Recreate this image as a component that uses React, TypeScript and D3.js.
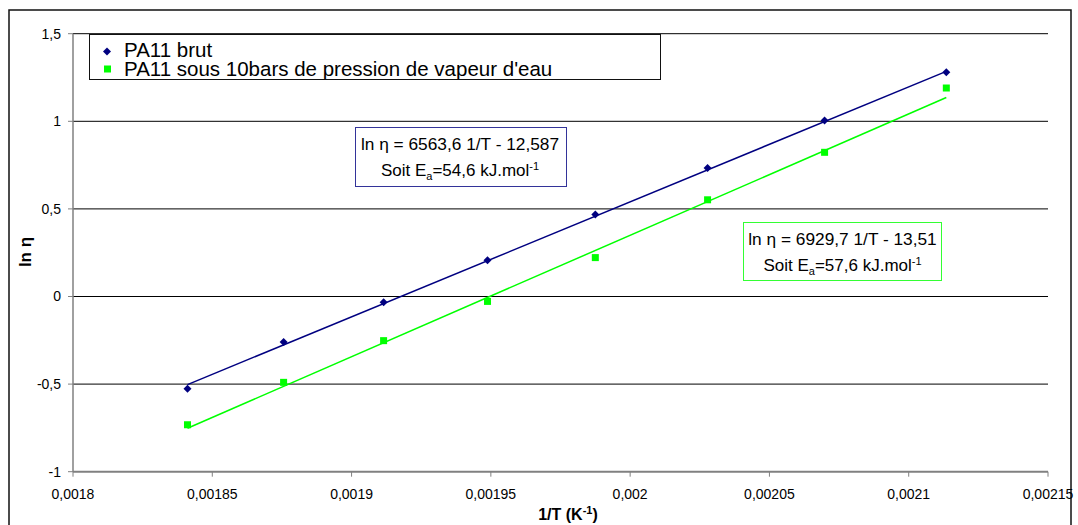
import React from "react";
import * as d3 from "d3";

const invT = [0.0018411, 0.0018756, 0.0019115, 0.0019488, 0.0019875, 0.0020278, 0.0020698, 0.0021135];
const brut = [-0.527, -0.26, -0.033, 0.207, 0.468, 0.733, 1.004, 1.28];
const vapeur = [-0.732, -0.49, -0.252, -0.028, 0.222, 0.552, 0.823, 1.19];
const fitBrut = { slope: 6563.6, intercept: -12.587 };
const fitVapeur = { slope: 6929.7, intercept: -13.51 };
const xTicks = [0.0018, 0.00185, 0.0019, 0.00195, 0.002, 0.00205, 0.0021, 0.00215];
const yTicks = [-1, -0.5, 0, 0.5, 1, 1.5];
const legendLabels = ["PA11 brut", "PA11 sous 10bars de pression de vapeur d'eau", "Linéaire (PA11 brut)"];

const BLUE = "#000080";
const GREEN = "#00FF00";
const FONT = "'Liberation Sans', Arial, sans-serif";

const fmt = (v: number) => String(v).replace(".", ",");

export default function App() {
  const x = d3.scaleLinear().domain([0.0018, 0.00215]).range([73, 1048]);
  const y = d3.scaleLinear().domain([-1, 1.5]).range([471.7, 33.7]);
  const line = d3.line<[number, number]>().x((d) => x(d[0])).y((d) => y(d[1]));
  const x0 = d3.min(invT)!;
  const x1 = d3.max(invT)!;
  const fitLine = (f: { slope: number; intercept: number }) =>
    line([
      [x0, f.slope * x0 + f.intercept],
      [x1, f.slope * x1 + f.intercept],
    ]);
  const diamond = "M0,-4L4,0L0,4L-4,0Z";

  return (
    <svg
      width={1078}
      height={525}
      style={{ position: "absolute", left: 0, top: 0, background: "#fff" }}
      fontFamily={FONT}
    >
      <defs>
        <clipPath id="legclip">
          <rect x={90} y={35} width={570} height={44} />
        </clipPath>
      </defs>
      <rect x={0} y={0} width={1078} height={525} fill="#fff" />
      {/* chart frame */}
      <rect x={9} y={10} width={1062} height={540} fill="none" stroke="#111" strokeWidth={1.5} />

      {/* gridlines */}
      {yTicks
        .filter((t) => t !== -1)
        .map((t) => (
          <line key={"g" + t} x1={x(0.0018)} x2={x(0.00215)} y1={y(t)} y2={y(t)} stroke="#000" strokeWidth={1} />
        ))}

      {/* y axis */}
      <line x1={x(0.0018)} x2={x(0.0018)} y1={y(1.5)} y2={y(-1)} stroke="#808080" strokeWidth={1.5} />
      {yTicks.map((t) => (
        <g key={"yt" + t}>
          <line x1={x(0.0018) - 5} x2={x(0.0018)} y1={y(t)} y2={y(t)} stroke="#808080" strokeWidth={1} />
          <text x={61} y={y(t)} dy="0.35em" textAnchor="end" fontSize={14} fill="#000">
            {fmt(t)}
          </text>
        </g>
      ))}

      {/* x axis */}
      <line x1={x(0.0018)} x2={x(0.00215)} y1={y(-1)} y2={y(-1)} stroke="#808080" strokeWidth={2} />
      {xTicks.map((t) => (
        <g key={"xt" + t}>
          <line x1={x(t)} x2={x(t)} y1={y(-1)} y2={y(-1) + 5} stroke="#808080" strokeWidth={1} />
          <text x={x(t)} y={499} textAnchor="middle" fontSize={14} fill="#000">
            {fmt(t)}
          </text>
        </g>
      ))}

      {/* axis titles */}
      <text x={568} y={520} textAnchor="middle" fontSize={16} fontWeight="bold">
        1/T (K
        <tspan fontSize={11} dy={-6}>-1</tspan>
        <tspan dy={6}>)</tspan>
      </text>
      <text transform="translate(31,252) rotate(-90)" textAnchor="middle" fontSize={17} fontWeight="bold">
        ln η
      </text>

      {/* trend lines */}
      <path d={fitLine(fitBrut)!} fill="none" stroke={BLUE} strokeWidth={1.5} />
      <path d={fitLine(fitVapeur)!} fill="none" stroke={GREEN} strokeWidth={1.5} />

      {/* points */}
      {invT.map((v, i) => (
        <path key={"b" + i} d={diamond} transform={`translate(${x(v)},${y(brut[i])})`} fill={BLUE} />
      ))}
      {invT.map((v, i) => (
        <rect key={"v" + i} x={x(v) - 3.5} y={y(vapeur[i]) - 3.5} width={7} height={7} fill={GREEN} />
      ))}

      {/* annotation boxes */}
      <rect x={355.5} y={127.5} width={211} height={59} fill="#fff" stroke="#333399" strokeWidth={1} />
      <text x={460} y={150} textAnchor="middle" fontSize={17.3}>
        ln η = 6563,6 1/T - 12,587
      </text>
      <text x={460} y={176} textAnchor="middle" fontSize={17}>
        Soit E<tspan fontSize={11} dy={4}>a</tspan>
        <tspan dy={-4}>=54,6 kJ.mol</tspan>
        <tspan fontSize={11} dy={-6}>-1</tspan>
      </text>

      <rect x={743.5} y={222.5} width={198} height={58} fill="#fff" stroke="#33ff33" strokeWidth={1} />
      <text x={842.5} y={245} textAnchor="middle" fontSize={17.3}>
        ln η = 6929,7 1/T - 13,51
      </text>
      <text x={842.5} y={271} textAnchor="middle" fontSize={17}>
        Soit E<tspan fontSize={11} dy={4}>a</tspan>
        <tspan dy={-4}>=57,6 kJ.mol</tspan>
        <tspan fontSize={11} dy={-6}>-1</tspan>
      </text>

      {/* legend */}
      <rect x={89.5} y={34.5} width={571} height={45} fill="#fff" stroke="#111" strokeWidth={1} />
      <g clipPath="url(#legclip)">
        <path d={diamond} transform="translate(107,51.5)" fill={BLUE} />
        <rect x={104} y={65.5} width={7} height={7} fill={GREEN} />
        {legendLabels.map((l, i) => (
          <text key={l} x={124} y={57 + i * 18.5} fontSize={20.5} fill="#000">
            {l}
          </text>
        ))}
      </g>
    </svg>
  );
}
